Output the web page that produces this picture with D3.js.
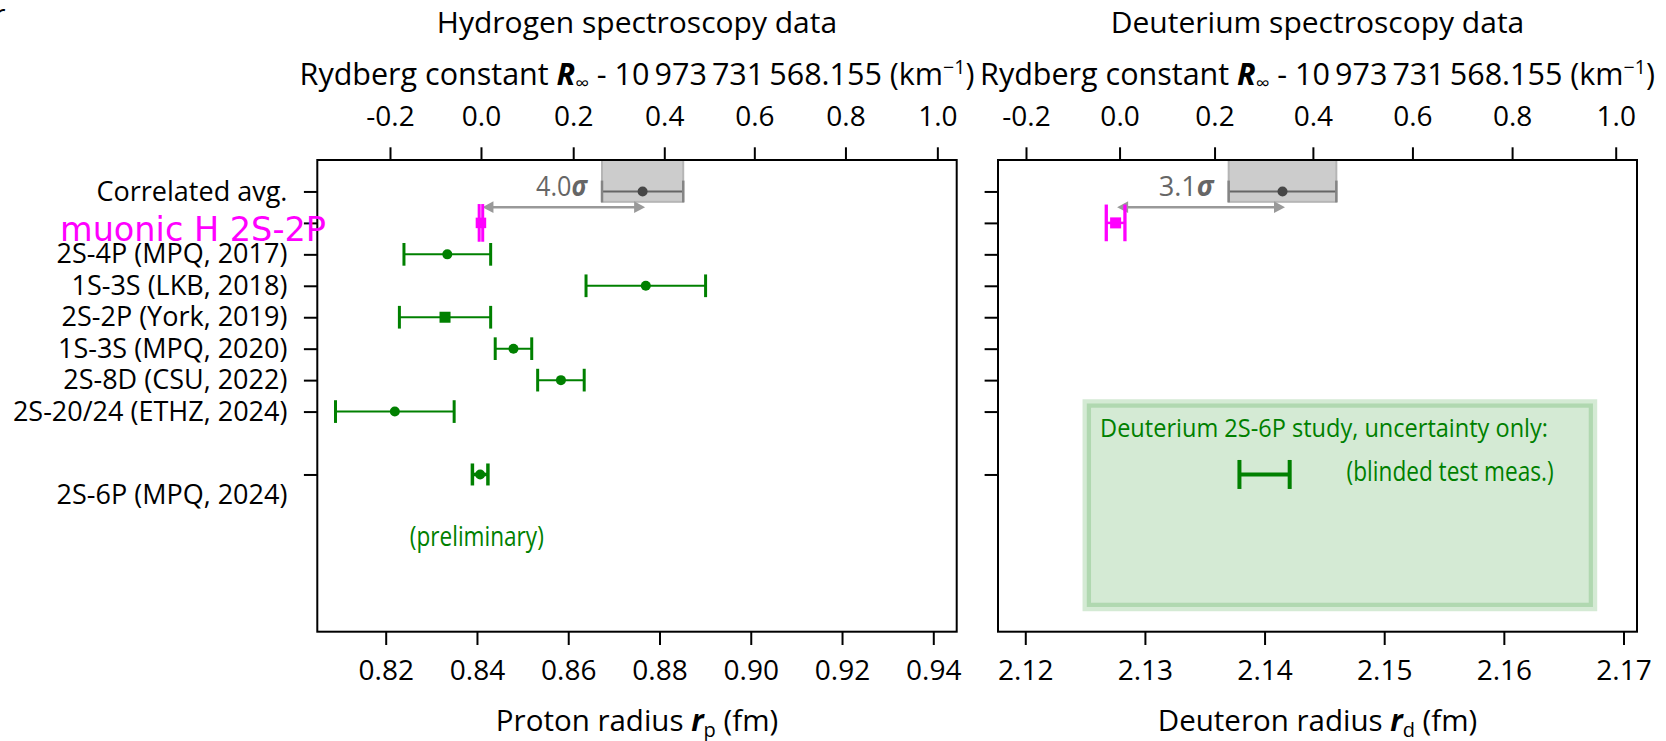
<!DOCTYPE html>
<html><head><meta charset="utf-8">
<script src="https://cdn.jsdelivr.net/npm/d3@7"></script>
<style>
body{margin:0;background:#fff;}
svg{display:block;}
</style></head><body>
<svg id="chart" width="1666" height="741"></svg>
<script>
// ---------------- data ----------------
const rowTicks = [0, 1, 2, 3, 4, 5, 6, 7, 9];
const rowLabels = ["Correlated avg.", "", "2S-4P (MPQ, 2017)", "1S-3S (LKB, 2018)", "2S-2P (York, 2019)",
                   "1S-3S (MPQ, 2020)", "2S-8D (CSU, 2022)", "2S-20/24 (ETHZ, 2024)", "2S-6P (MPQ, 2024)"];

const hMeasRows    = [2, 3, 4, 5, 6, 7];
const hMeasValues  = [0.8335, 0.8770, 0.8330, 0.8480, 0.8584, 0.8220];
const hMeasErrors  = [0.0095, 0.0131, 0.0100, 0.0040, 0.0051, 0.0130];
const hMeasMarkers = ["circle", "circle", "square", "circle", "circle", "circle"];

const hAvg   = [0.8763, 0.0089];   // correlated average H: value, uncertainty (fm)
const dAvg   = [2.1415, 0.0045];   // correlated average D
const muH    = [0.84087, 0.00039]; // muonic H 2S-2P
const muD    = [2.12755, 0.00078]; // muonic D
const h2S6P  = [0.8407, 0.0017];   // 2S-6P (MPQ, 2024) preliminary
const dBlind = [2.1400, 0.0021];   // D 2S-6P blinded, uncertainty only
const sigmaLabels = ["4.0", "3.1"];

const rpTicks  = [0.82, 0.84, 0.86, 0.88, 0.90, 0.92, 0.94];
const rdTicks  = [2.12, 2.13, 2.14, 2.15, 2.16, 2.17];
const rydTicks = [-0.2, 0.0, 0.2, 0.4, 0.6, 0.8, 1.0];
// radius equivalent of each Rydberg-constant tick (secondary axis conversion)
const rydAsRp  = [0.82094, 0.84088, 0.86109, 0.88105, 0.90078, 0.92075, 0.94089];
const rydAsRd  = [2.12006, 2.12788, 2.13582, 2.14404, 2.15236, 2.16069, 2.16935];

// ---------------- layout ----------------
const FONT = "'Open Sans','Noto Sans',sans-serif";
const GREEN = "#008000", MAG = "#ff00ff";
const TOP = 160, BOTTOM = 631.7;
const PL = {x0: 317.3, x1: 956.7}, PR = {x0: 998, x1: 1637};

const svg = d3.select("#chart");
const yS = d3.scaleLinear().domain([-1, 14]).range([TOP, BOTTOM]);
const xH = d3.scaleLinear().domain([0.80501, 0.94513]).range([PL.x0, PL.x1]);
const xD = d3.scaleLinear().domain([2.11772, 2.17113]).range([PR.x0, PR.x1]);
const tH = d3.scaleLinear().domain(rydTicks).range(rydAsRp.map(xH));
const tD = d3.scaleLinear().domain(rydTicks).range(rydAsRd.map(xD));

function errorbar(g, x, v, e, row, o) {
  const yc = yS(row), xl = x(v - e), xr = x(v + e);
  g.append("line").attr("x1", xl).attr("x2", xr).attr("y1", yc).attr("y2", yc)
    .attr("stroke", o.color).attr("stroke-width", o.lw);
  [xl, xr].forEach(xx => g.append("line").attr("x1", xx).attr("x2", xx)
    .attr("y1", yc - o.capH / 2).attr("y2", yc + o.capH / 2)
    .attr("stroke", o.capColor || o.color).attr("stroke-width", o.capW));
  if (o.marker === "circle")
    g.append("circle").attr("cx", x(v)).attr("cy", yc).attr("r", o.ms / 2).attr("fill", o.mColor || o.color);
  else if (o.marker === "square")
    g.append("rect").attr("x", x(v) - o.ms / 2).attr("y", yc - o.ms / 2)
      .attr("width", o.ms).attr("height", o.ms).attr("fill", o.mColor || o.color);
}

function dblArrow(g, xa, xb, yy) {
  const hl = 11, hw = 5.8, c = "#999999";
  g.append("line").attr("x1", xa + hl - 1).attr("x2", xb - hl + 1).attr("y1", yy).attr("y2", yy)
    .attr("stroke", c).attr("stroke-width", 2.5);
  g.append("path").attr("d", `M${xa},${yy}L${xa + hl},${yy - hw}L${xa + hl},${yy + hw}Z`).attr("fill", c);
  g.append("path").attr("d", `M${xb},${yy}L${xb - hl},${yy - hw}L${xb - hl},${yy + hw}Z`).attr("fill", c);
}

function avgBlock(g, x, avg, mu, label, textLen) {
  g.append("rect").attr("x", x(avg[0] - avg[1])).attr("y", yS(-1))
    .attr("width", x(avg[0] + avg[1]) - x(avg[0] - avg[1])).attr("height", yS(0.33) - yS(-1))
    .attr("fill", "#cccccc").attr("stroke", "#b5b5b5").attr("stroke-width", 2);
  errorbar(g, x, avg[0], avg[1], 0, {color: "#666", capColor: "#858585", lw: 2, capW: 2.5, capH: 21.7,
    marker: "circle", ms: 10, mColor: "#474747"});
  dblArrow(g, x(mu[0]) + 1.5, x(avg[0]) + 2.5, yS(0.5));
  const t = g.append("text").attr("x", x(avg[0] - avg[1]) - 15).attr("y", yS(0) + 5)
    .attr("text-anchor", "end").attr("font-family", FONT).attr("font-size", 28).attr("fill", "#666")
    .attr("textLength", textLen).attr("lengthAdjust", "spacingAndGlyphs");
  t.append("tspan").text(label);
  t.append("tspan").attr("font-weight", "bold").attr("font-style", "italic").text("σ");
}

function styleAxis(g, size) {
  g.attr("font-family", FONT).attr("font-size", size).attr("fill", "#000");
  g.select(".domain").remove();
  g.selectAll(".tick line").attr("stroke", "#000").attr("stroke-width", 2);
  g.selectAll(".tick text").attr("fill", "#000");
}

// ---------------- left panel (hydrogen) ----------------
const gL = svg.append("g");
avgBlock(gL, xH, hAvg, muH, sigmaLabels[0], 51);
hMeasRows.forEach((r, i) => errorbar(gL, xH, hMeasValues[i], hMeasErrors[i], r,
  {color: GREEN, lw: 2, capW: 3, capH: 22.7, marker: hMeasMarkers[i], ms: hMeasMarkers[i] === "square" ? 11 : 10}));
errorbar(gL, xH, muH[0], muH[1], 1, {color: MAG, lw: 2, capW: 3, capH: 37.7, marker: "square", ms: 10.5});
errorbar(gL, xH, h2S6P[0], h2S6P[1], 9, {color: GREEN, lw: 3.5, capW: 3.5, capH: 22, marker: "circle", ms: 10});
gL.append("text").attr("x", xH(0.83997)).attr("y", yS(11.28)).attr("text-anchor", "middle")
  .attr("font-family", FONT).attr("font-size", 27).attr("fill", GREEN)
  .attr("textLength", 134).attr("lengthAdjust", "spacingAndGlyphs").text("(preliminary)");

// ---------------- right panel (deuterium) ----------------
const gR = svg.append("g");
gR.append("rect").attr("x", xD(2.12514)).attr("y", yS(6.743))
  .attr("width", xD(2.16745) - xD(2.12514)).attr("height", yS(13.214) - yS(6.743))
  .attr("fill", "rgba(0,128,0,0.17)").attr("stroke", "rgba(0,128,0,0.17)").attr("stroke-width", 8.5);
gR.append("text").attr("x", xD(2.12625)).attr("y", yS(7.80))
  .attr("font-family", FONT).attr("font-size", 25).attr("fill", GREEN)
  .attr("textLength", 448).attr("lengthAdjust", "spacingAndGlyphs")
  .text("Deuterium 2S-6P study, uncertainty only:");
gR.append("text").attr("x", xD(2.15551)).attr("y", yS(9.2)).attr("text-anchor", "middle")
  .attr("font-family", FONT).attr("font-size", 28).attr("fill", GREEN)
  .attr("textLength", 207).attr("lengthAdjust", "spacingAndGlyphs").text("(blinded test meas.)");
errorbar(gR, xD, dBlind[0], dBlind[1], 9, {color: GREEN, lw: 4, capW: 4, capH: 29, marker: "none"});
avgBlock(gR, xD, dAvg, muD, sigmaLabels[1], 55);
errorbar(gR, xD, muD[0], muD[1], 1, {color: MAG, lw: 2.5, capW: 3.3, capH: 36.7, marker: "square", ms: 11});

// ---------------- axes ----------------
const axL = svg.append("g").attr("transform", `translate(${PL.x0},0)`)
  .call(d3.axisLeft(yS).tickValues(rowTicks).tickSize(13.4).tickPadding(16.5)
    .tickFormat((d, i) => rowLabels[i]));
styleAxis(axL, 27);
axL.selectAll(".tick text").filter(d => d === 9).attr("dy", "1.08em");

const axR = svg.append("g").attr("transform", `translate(${PR.x0},0)`)
  .call(d3.axisLeft(yS).tickValues(rowTicks).tickSize(13.4).tickFormat(""));
styleAxis(axR, 27);

const bL = svg.append("g").attr("transform", `translate(0,${BOTTOM})`)
  .call(d3.axisBottom(xH).tickValues(rpTicks).tickSize(13.3).tickPadding(15).tickFormat(d3.format(".2f")));
styleAxis(bL, 28);
const bR = svg.append("g").attr("transform", `translate(0,${BOTTOM})`)
  .call(d3.axisBottom(xD).tickValues(rdTicks).tickSize(13.3).tickPadding(15).tickFormat(d3.format(".2f")));
styleAxis(bR, 28);

const fmtTop = d => d.toFixed(1);
const tpL = svg.append("g").attr("transform", `translate(0,${TOP})`)
  .call(d3.axisTop(tH).tickValues(rydTicks).tickSize(12.7).tickPadding(21.3).tickFormat(fmtTop));
styleAxis(tpL, 28);
const tpR = svg.append("g").attr("transform", `translate(0,${TOP})`)
  .call(d3.axisTop(tD).tickValues(rydTicks).tickSize(12.7).tickPadding(21.3).tickFormat(fmtTop));
styleAxis(tpR, 28);

// spines
[PL, PR].forEach(p => svg.append("rect").attr("x", p.x0).attr("y", TOP)
  .attr("width", p.x1 - p.x0).attr("height", BOTTOM - TOP)
  .attr("fill", "none").attr("stroke", "#000").attr("stroke-width", 2));

// ---------------- titles & labels ----------------
function textAt(x, y, size, anchor) {
  return svg.append("text").attr("x", x).attr("y", y).attr("text-anchor", anchor || "middle")
    .attr("font-family", FONT).attr("font-size", size).attr("fill", "#000");
}
[[PL, "Hydrogen spectroscopy data"], [PR, "Deuterium spectroscopy data"]].forEach(([p, s]) => {
  textAt((p.x0 + p.x1) / 2, 33, 30).text(s);
  const t = textAt((p.x0 + p.x1) / 2, 85, 30.5);
  t.append("tspan").text("Rydberg constant ");
  t.append("tspan").attr("font-weight", "bold").attr("font-style", "italic").text("R");
  t.append("tspan").attr("font-size", 19.5).attr("dy", 5).text("∞");
  t.append("tspan").attr("dy", -5).text(" - 10\u2009973\u2009731\u2009568.155 (km");
  t.append("tspan").attr("font-size", 19.5).attr("dy", -11).text("\u22121");
  t.append("tspan").attr("dy", 11).text(")");
});
[[PL, "Proton radius ", "p"], [PR, "Deuteron radius ", "d"]].forEach(([p, s, sub]) => {
  const t = textAt((p.x0 + p.x1) / 2, 731, 29.5);
  t.append("tspan").text(s);
  t.append("tspan").attr("font-weight", "bold").attr("font-style", "italic").text("r");
  t.append("tspan").attr("font-size", 20).attr("dy", 6).text(sub);
  t.append("tspan").attr("dy", -6).text(" (fm)");
});

// magenta label drawn on top of the axis
svg.append("text").attr("x", 60).attr("y", yS(1) + 18.5)
  .attr("font-family", "'DejaVu Sans',sans-serif").attr("font-size", 33.5).attr("fill", MAG)
  .text("muonic H 2S-2P");

// cropped panel letter at the top-left corner
textAt(-6, 24, 28, "start").text("r");
</script>
</body></html>
